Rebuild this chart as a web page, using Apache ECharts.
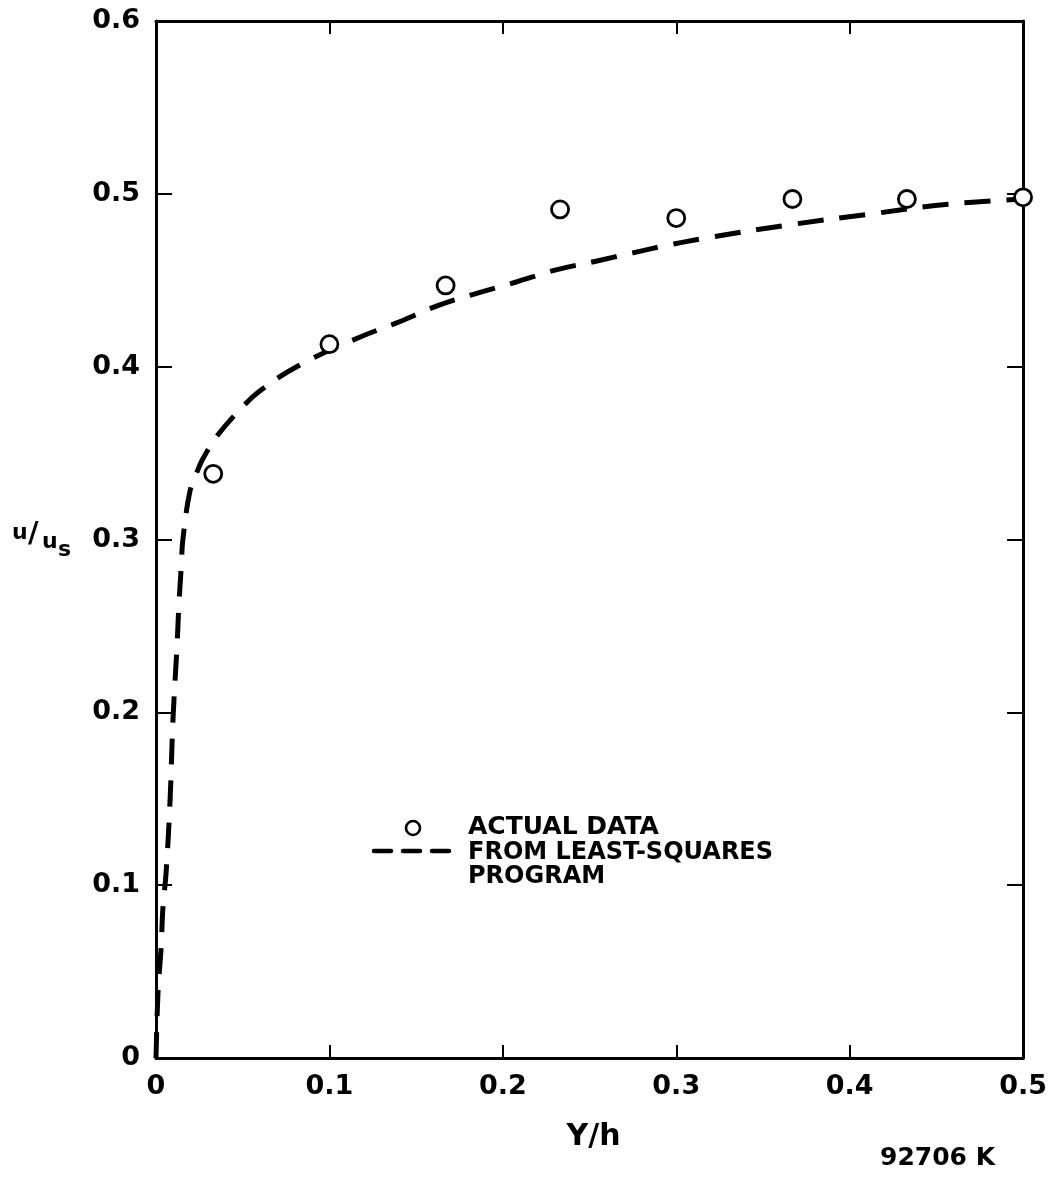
<!DOCTYPE html>
<html>
<head>
<meta charset="utf-8">
<title>u/us versus Y/h</title>
<script src="https://cdn.jsdelivr.net/npm/echarts@6/dist/echarts.min.js"></script>
<style>
  html, body { margin: 0; padding: 0; background: #fff; }
  #chart { width: 1050px; height: 1182px; }
</style>
</head>
<body>
<div id="chart"></div>
<script>
// Measured velocity ratio u/us at each relative depth Y/h
const dataY = [0.033, 0.1, 0.167, 0.233, 0.3, 0.367, 0.433, 0.5];
const dataU = [0.338, 0.413, 0.447, 0.491, 0.486, 0.497, 0.497, 0.498];

// Profile from the least-squares fit
const fitY = [0, 0.0012, 0.0029, 0.004, 0.0058, 0.0081, 0.0098, 0.0121, 0.0132, 0.0146,
              0.0155, 0.0196, 0.0236, 0.0272, 0.0353, 0.0483, 0.06, 0.0829, 0.1174, 0.1404,
              0.1617, 0.1835, 0.2077, 0.2307, 0.2537, 0.2756, 0.2986, 0.3205, 0.3648, 0.4097,
              0.4568, 0.5];
const fitU = [0, 0.039, 0.063, 0.087, 0.107, 0.149, 0.196, 0.238, 0.262, 0.285,
              0.300, 0.328, 0.339, 0.347, 0.360, 0.375, 0.386, 0.401, 0.417, 0.426,
              0.435, 0.442, 0.449, 0.456, 0.461, 0.466, 0.471, 0.475, 0.482, 0.488,
              0.494, 0.497];

// Tick labels
const xTickLabels = ['0', '0.1', '0.2', '0.3', '0.4', '0.5'];
const yTickLabels = ['0', '0.1', '0.2', '0.3', '0.4', '0.5', '0.6'];

const FONT = '"DejaVu Sans", "Liberation Sans", sans-serif';
const INK = '#000';

const chart = echarts.init(document.getElementById('chart'), null, { renderer: 'canvas' });

const axisLineStyle = { lineStyle: { color: INK, width: 3 } };

function xAxisDef(pos, showLabel) {
  return {
    type: 'value', position: pos, min: 0, max: 0.5, interval: 0.1,
    axisLine: Object.assign({ show: true, onZero: false }, axisLineStyle),
    axisTick: { show: true, inside: true, length: 13, lineStyle: { color: INK, width: 2 } },
    axisLabel: {
      show: showLabel, margin: 15, color: INK, fontFamily: FONT, fontWeight: 'bold', fontSize: 27,
      formatter: (v, i) => xTickLabels[i]
    },
    splitLine: { show: false }
  };
}
function yAxisDef(pos, showLabel) {
  return {
    type: 'value', position: pos, min: 0, max: 0.6, interval: 0.1,
    axisLine: Object.assign({ show: true, onZero: false }, axisLineStyle),
    axisTick: { show: true, inside: true, length: 16, lineStyle: { color: INK, width: 2 } },
    axisLabel: {
      show: showLabel, margin: 16, color: INK, fontFamily: FONT, fontWeight: 'bold', fontSize: 27,
      formatter: (v, i) => yTickLabels[i]
    },
    splitLine: { show: false }
  };
}

const xBottom = xAxisDef('bottom', true);
xBottom.name = 'Y/h';
xBottom.nameLocation = 'middle';
xBottom.nameGap = 64;
xBottom.nameTextStyle = { color: INK, fontFamily: FONT, fontWeight: 'bold', fontSize: 30, padding: [0, 0, 0, 8] };

const option = {
  backgroundColor: '#fff',
  animation: false,
  grid: { left: 156, right: 25, top: 21, bottom: 124 },
  xAxis: [xBottom, xAxisDef('top', false)],
  yAxis: [yAxisDef('left', true), yAxisDef('right', false)],
  series: [
    {
      name: 'FROM LEAST-SQUARES PROGRAM',
      type: 'line',
      xAxisIndex: 0, yAxisIndex: 0,
      data: fitY.map((y, i) => [y, fitU[i]]),
      showSymbol: false, symbol: 'none',
      smooth: 0.4,
      lineStyle: { color: INK, width: 5, type: [26, 16], cap: 'butt' },
      z: 3
    },
    {
      name: 'ACTUAL DATA',
      type: 'scatter',
      xAxisIndex: 0, yAxisIndex: 0,
      data: dataY.map((y, i) => [y, dataU[i]]),
      symbol: 'circle', symbolSize: 17,
      itemStyle: { color: '#fff', borderColor: INK, borderWidth: 2.8, opacity: 1 },
      z: 5
    }
  ],
  graphic: [
    // y-axis title u/us
    { type: 'text', left: 12, top: 522, style: { text: 'u', fontFamily: FONT, fontWeight: 'bold', fontSize: 22, fill: INK } },
    { type: 'text', left: 28, top: 520, style: { text: '/', fontFamily: FONT, fontWeight: 'bold', fontSize: 29, fill: INK } },
    { type: 'text', left: 42, top: 531, style: { text: 'u', fontFamily: FONT, fontWeight: 'bold', fontSize: 22, fill: INK } },
    { type: 'text', left: 58, top: 539, style: { text: 's', fontFamily: FONT, fontWeight: 'bold', fontSize: 22, fill: INK } },
    // key
    { type: 'circle', shape: { cx: 413, cy: 828, r: 7 }, style: { fill: '#fff', stroke: INK, lineWidth: 2.6 } },
    { type: 'line', shape: { x1: 374, y1: 851, x2: 450, y2: 851 },
      style: { stroke: INK, lineWidth: 4.5, lineCap: 'round', lineDash: [17, 12] } },
    { type: 'text', left: 468, top: 815, style: { text: 'ACTUAL DATA', fontFamily: FONT, fontWeight: 'bold', fontSize: 25, fill: INK } },
    { type: 'text', left: 468, top: 841, style: { text: 'FROM LEAST-SQUARES\nPROGRAM', lineHeight: 24, fontFamily: FONT, fontWeight: 'bold', fontSize: 24, fill: INK } },
    // figure number
    { type: 'text', left: 880, top: 1146, style: { text: '92706 K', fontFamily: FONT, fontWeight: 'bold', fontSize: 25, fill: INK } }
  ]
};

chart.setOption(option);
</script>
</body>
</html>
